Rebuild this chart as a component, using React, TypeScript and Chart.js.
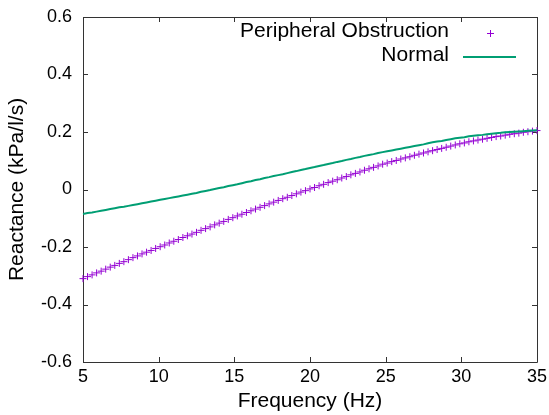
import React, { useEffect, useRef } from "react";
import { Chart, registerables } from "chart.js";

Chart.register(...registerables);

const freqs = [
  5.0, 5.3, 5.6, 5.9, 6.2, 6.5, 6.8, 7.1, 7.4, 7.7,
  8.0, 8.3, 8.6, 8.9, 9.2, 9.5, 9.8, 10.1, 10.4, 10.7,
  11.0, 11.3, 11.6, 11.9, 12.2, 12.5, 12.8, 13.1, 13.4, 13.7,
  14.0, 14.3, 14.6, 14.9, 15.2, 15.5, 15.8, 16.1, 16.4, 16.7,
  17.0, 17.3, 17.6, 17.9, 18.2, 18.5, 18.8, 19.1, 19.4, 19.7,
  20.0, 20.3, 20.6, 20.9, 21.2, 21.5, 21.8, 22.1, 22.4, 22.7,
  23.0, 23.3, 23.6, 23.9, 24.2, 24.5, 24.8, 25.1, 25.4, 25.7,
  26.0, 26.3, 26.6, 26.9, 27.2, 27.5, 27.8, 28.1, 28.4, 28.7,
  29.0, 29.3, 29.6, 29.9, 30.2, 30.5, 30.8, 31.1, 31.4, 31.7,
  32.0, 32.3, 32.6, 32.9, 33.2, 33.5, 33.8, 34.1, 34.4, 34.7,
  35.0,
];

const peripheral = [
  -0.310, -0.303, -0.297, -0.290, -0.284, -0.277, -0.270, -0.264, -0.257, -0.251,
  -0.244, -0.237, -0.231, -0.224, -0.218, -0.212, -0.205, -0.199, -0.193, -0.186,
  -0.180, -0.174, -0.167, -0.161, -0.155, -0.149, -0.142, -0.136, -0.130, -0.123,
  -0.117, -0.111, -0.104, -0.098, -0.092, -0.086, -0.080, -0.074, -0.068, -0.062,
  -0.056, -0.050, -0.044, -0.038, -0.032, -0.027, -0.021, -0.015, -0.009, -0.004,
  0.002, 0.007, 0.013, 0.018, 0.024, 0.029, 0.034, 0.040, 0.045, 0.051,
  0.056, 0.061, 0.067, 0.072, 0.077, 0.082, 0.088, 0.092, 0.097, 0.101,
  0.106, 0.110, 0.114, 0.119, 0.123, 0.127, 0.131, 0.135, 0.139, 0.143,
  0.147, 0.151, 0.155, 0.159, 0.162, 0.166, 0.169, 0.172, 0.175, 0.178,
  0.181, 0.184, 0.186, 0.189, 0.192, 0.194, 0.196, 0.199, 0.201, 0.203,
  0.205,
];

const normal = [
  -0.085, -0.082, -0.080, -0.077, -0.074, -0.071, -0.068, -0.065, -0.062, -0.060,
  -0.057, -0.054, -0.051, -0.048, -0.045, -0.042, -0.039, -0.036, -0.033, -0.030,
  -0.027, -0.024, -0.021, -0.018, -0.015, -0.012, -0.008, -0.005, -0.002, 0.002,
  0.005, 0.008, 0.012, 0.015, 0.018, 0.022, 0.026, 0.029, 0.033, 0.036,
  0.040, 0.043, 0.047, 0.050, 0.053, 0.057, 0.061, 0.064, 0.068, 0.071,
  0.075, 0.078, 0.082, 0.085, 0.089, 0.092, 0.096, 0.099, 0.103, 0.106,
  0.110, 0.113, 0.117, 0.120, 0.123, 0.127, 0.130, 0.133, 0.136, 0.139,
  0.142, 0.145, 0.148, 0.151, 0.154, 0.157, 0.161, 0.164, 0.167, 0.169,
  0.172, 0.175, 0.178, 0.180, 0.182, 0.185, 0.187, 0.189, 0.190, 0.192,
  0.194, 0.196, 0.197, 0.199, 0.200, 0.201, 0.202, 0.203, 0.204, 0.205,
  0.206,
];

const xTickValues = [5, 10, 15, 20, 25, 30, 35];
const xTickLabels = ["5", "10", "15", "20", "25", "30", "35"];
const yTickValues = [-0.6, -0.4, -0.2, 0, 0.2, 0.4, 0.6];
const yTickLabels = ["-0.6", "-0.4", "-0.2", "0", "0.2", "0.4", "0.6"];

const seriesLabels = ["Peripheral Obstruction", "Normal"];
const seriesColors = ["#9400d3", "#009e73"];

const FONT = "'Liberation Sans', Arial, sans-serif";

const framePlugin = {
  id: "frame",
  beforeDatasetsDraw(chart: any) {
    const { ctx, chartArea } = chart;
    const { left, right, top, bottom } = chartArea;
    const xs = chart.scales.x;
    const ys = chart.scales.y;
    const tl = 5;
    ctx.save();
    ctx.strokeStyle = "#333333";
    ctx.lineWidth = 1;
    ctx.beginPath();
    ctx.rect(Math.round(left) + 0.5, Math.round(top) + 0.5, Math.round(right - left), Math.round(bottom - top));
    ctx.stroke();
    ctx.beginPath();
    xTickValues.forEach((v) => {
      const px = Math.round(xs.getPixelForValue(v)) + 0.5;
      ctx.moveTo(px, bottom);
      ctx.lineTo(px, bottom - tl);
      ctx.moveTo(px, top);
      ctx.lineTo(px, top + tl);
    });
    yTickValues.forEach((v) => {
      const py = Math.round(ys.getPixelForValue(v)) + 0.5;
      ctx.moveTo(left, py);
      ctx.lineTo(left + tl, py);
      ctx.moveTo(right, py);
      ctx.lineTo(right - tl, py);
    });
    ctx.stroke();
    ctx.restore();
  },
};

const legendPlugin = {
  id: "customLegend",
  afterDraw(chart: any) {
    const { ctx } = chart;
    const textRight = 449;
    const baselines = [37, 61];
    ctx.save();
    ctx.font = `21px ${FONT}`;
    ctx.fillStyle = "#000000";
    ctx.textAlign = "right";
    ctx.textBaseline = "alphabetic";
    chart.data.datasets.forEach((ds: any, i: number) => {
      ctx.fillText(ds.label, textRight, baselines[i]);
    });
    const p0 = chart.data.datasets[0];
    ctx.strokeStyle = p0.borderColor;
    ctx.lineWidth = 1;
    const cx = 490.5;
    const cy = baselines[0] - 4 + 0.5;
    ctx.beginPath();
    ctx.moveTo(cx - 3.5, cy);
    ctx.lineTo(cx + 3.5, cy);
    ctx.moveTo(cx, cy - 3.5);
    ctx.lineTo(cx, cy + 3.5);
    ctx.stroke();
    const p1 = chart.data.datasets[1];
    ctx.strokeStyle = p1.borderColor;
    ctx.lineWidth = 2;
    ctx.beginPath();
    ctx.moveTo(463, baselines[1] - 4);
    ctx.lineTo(516, baselines[1] - 4);
    ctx.stroke();
    ctx.restore();
  },
};

export default function App() {
  const canvasRef = useRef<HTMLCanvasElement | null>(null);

  useEffect(() => {
    if (!canvasRef.current) return;
    const chart = new Chart(canvasRef.current, {
      type: "scatter",
      data: {
        datasets: [
          {
            label: seriesLabels[0],
            data: freqs.map((f, i) => ({ x: f, y: peripheral[i] })),
            borderColor: seriesColors[0],
            backgroundColor: seriesColors[0],
            pointStyle: "cross",
            pointRadius: 3.5,
            pointBorderWidth: 1,
            showLine: false,
            clip: false,
            order: 2,
          },
          {
            label: seriesLabels[1],
            data: freqs.map((f, i) => ({ x: f, y: normal[i] })),
            borderColor: seriesColors[1],
            backgroundColor: seriesColors[1],
            showLine: true,
            pointRadius: 0,
            borderWidth: 2,
            clip: false,
            order: 1,
          },
        ],
      },
      options: {
        animation: false,
        responsive: true,
        maintainAspectRatio: false,
        layout: { padding: { left: 0, right: 12, top: 17, bottom: 0 } },
        plugins: {
          legend: { display: false },
          tooltip: { enabled: false },
        },
        scales: {
          x: {
            type: "linear",
            min: 5,
            max: 35,
            afterFit: (scale: any) => {
              scale.height = 53;
              scale.paddingLeft = 0;
              scale.paddingRight = 0;
            },
            afterBuildTicks: (scale: any) => {
              scale.ticks = xTickValues.map((v) => ({ value: v }));
            },
            grid: { display: false, drawTicks: false },
            border: { display: false },
            ticks: {
              autoSkip: false,
              maxRotation: 0,
              padding: 4,
              color: "#000000",
              font: { family: FONT, size: 18 },
              callback: (v: any) => {
                const idx = xTickValues.indexOf(Number(v));
                return idx >= 0 ? xTickLabels[idx] : "";
              },
            },
            title: {
              display: true,
              text: "Frequency (Hz)",
              color: "#000000",
              font: { family: FONT, size: 21 },
              padding: { top: 0, bottom: 1 },
            },
          },
          y: {
            type: "linear",
            min: -0.6,
            max: 0.6,
            afterFit: (scale: any) => {
              scale.width = 83;
              scale.paddingTop = 0;
              scale.paddingBottom = 0;
            },
            afterBuildTicks: (scale: any) => {
              scale.ticks = yTickValues.map((v) => ({ value: v }));
            },
            grid: { display: false, drawTicks: false },
            border: { display: false },
            ticks: {
              autoSkip: false,
              padding: 11,
              color: "#000000",
              font: { family: FONT, size: 18 },
              callback: (v: any) => {
                const idx = yTickValues.findIndex((t) => Math.abs(t - Number(v)) < 1e-9);
                return idx >= 0 ? yTickLabels[idx] : "";
              },
            },
            title: {
              display: true,
              text: "Reactance (kPa/l/s)",
              color: "#000000",
              font: { family: FONT, size: 21 },
              padding: { top: 5, bottom: 0 },
            },
          },
        },
      },
      plugins: [framePlugin, legendPlugin],
    });
    return () => chart.destroy();
  }, []);

  return (
    <div style={{ position: "absolute", left: 0, top: 0, width: 549, height: 415, background: "#ffffff" }}>
      <canvas ref={canvasRef} />
    </div>
  );
}
